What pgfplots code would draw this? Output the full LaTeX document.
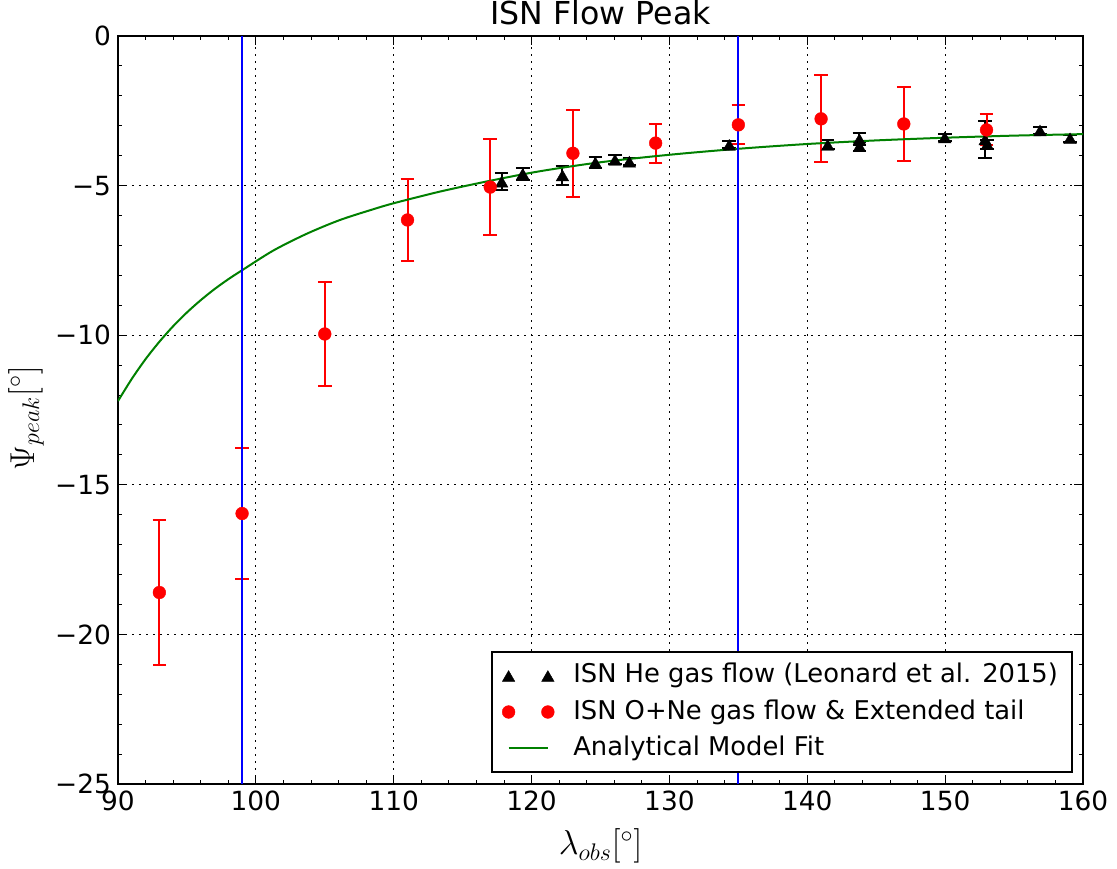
\documentclass[border=0pt]{standalone}
\usepackage{pgfplots}
\pgfplotsset{compat=1.18}
\usepackage{fontspec}
\setmainfont{DejaVu Sans}

\definecolor{mplgreen}{rgb}{0,0.5,0}
\definecolor{mplblue}{rgb}{0,0,1}
\definecolor{mplred}{rgb}{1,0,0}

\pgfplotsset{
  twomarks legend/.style={legend image code/.code={\draw[##1] plot[only marks] coordinates {(0cm,0cm) (0.69cm,0cm)};}},
  shortline legend/.style={legend image code/.code={\draw[##1] (0cm,0cm) -- (0.69cm,0cm);}},
}

% ISN He (Leonard et al. 2015)
\pgfplotstableread{
x y e
117.83 -4.87 0.28
119.36 -4.61 0.20
122.24 -4.66 0.32
124.63 -4.23 0.17
126.05 -4.14 0.15
127.09 -4.20 0.12
134.34 -3.64 0.12
141.48 -3.64 0.15
143.78 -3.45 0.20
143.78 -3.68 0.15
149.97 -3.39 0.12
152.90 -3.46 0.63
153.05 -3.62 0.15
156.88 -3.16 0.12
159.06 -3.42 0.12
}\hedata

% ISN O+Ne & extended tail
\pgfplotstableread{
x y e
93  -18.60 2.42
99  -15.96 2.19
105 -9.96  1.74
111 -6.15  1.37
117 -5.05  1.60
123 -3.92  1.45
129 -3.58  0.65
135 -2.97  0.65
141 -2.77  1.45
147 -2.94  1.24
153 -3.14  0.52
}\onedata

% analytical fit
\pgfplotstableread{
x y
90     -12.20
91     -11.46
92     -10.80
93     -10.22
94     -9.70
95     -9.24
96     -8.83
97     -8.46
98     -8.13
99     -7.83
101.27 -7.17
103.69 -6.61
106.1  -6.15
108.52 -5.79
110    -5.59
113.36 -5.20
116.98 -4.84
120.61 -4.52
125    -4.22
130    -3.97
135    -3.77
140    -3.61
145    -3.49
150    -3.40
155    -3.33
160    -3.28
}\fitdata

\begin{document}
\begin{tikzpicture}
\begin{axis}[
  scale only axis,
  width=482.5pt, height=374pt,
  xmin=90, xmax=160, ymin=-25, ymax=0,
  xtick={90,100,...,160},
  ytick={-25,-20,-15,-10,-5,0},
  yticklabels={−25,−20,−15,−10,−5,0},
  /pgf/number format/assume math mode=true,
  minor x tick num=4, minor y tick num=4,
  tick align=inside,
  major tick length=4.5pt, minor tick length=2.2pt,
  every tick/.style={black, line width=0.5pt},
  axis line style={line width=1pt},
  grid=major,
  major grid style={black, line width=0.5pt, dash pattern=on 1pt off 2.5pt},
  tick label style={font=\fontsize{13.2}{15}\selectfont},
  title={ISN Flow Peak},
  every axis title shift=0pt,
  title style={font=\fontsize{15.8}{18}\selectfont, at={(0.5,1.0147)}, anchor=base},
  xlabel={$\lambda_{obs}[^\circ]$},
  ylabel={$\Psi_{peak}[^\circ]$},
  label style={font=\fontsize{17}{20}\selectfont},
  xlabel style={at={(0.5,-0.0949)}, anchor=base},
  ylabel style={at={(-0.0870,0.4893)}, anchor=base},
  legend cell align=left,
  legend style={at={(0.9896,0.0147)}, anchor=south east, draw=black,
    line width=1pt, fill=white, font=\fontsize{12.9}{15}\selectfont,
    inner xsep=5pt, inner ysep=3pt,
    nodes={text height=10.5pt, text depth=3.5pt, inner ysep=2pt},
    /tikz/every odd column/.append style={column sep=7.5pt}},
]

\addplot[only marks, black, mark=triangle*, mark size=3.6pt,
  mark options={fill=black, draw=black, line width=0.2pt, yshift=-0.9pt},
  twomarks legend,
  error bars/.cd, y dir=both, y explicit,
  error bar style={line width=1pt, black},
  error mark options={rotate=90, mark size=3.4pt, line width=1pt, black}]
  table[x=x, y=y, y error=e] {\hedata};
\addlegendentry{ISN He gas flow (Leonard et al. 2015)}

\addplot[only marks, mplred, mark=*, mark size=3.2pt,
  mark options={fill=mplred, draw=mplred, line width=0.2pt},
  twomarks legend,
  error bars/.cd, y dir=both, y explicit,
  error bar style={line width=1pt, mplred},
  error mark options={rotate=90, mark size=3.4pt, line width=1pt, mplred}]
  table[x=x, y=y, y error=e] {\onedata};
\addlegendentry{ISN O+Ne gas flow \& Extended tail}

\addplot[mplgreen, line width=1pt, smooth, no marks, shortline legend]
  table[x=x, y=y] {\fitdata};
\addlegendentry{Analytical Model Fit}

\addplot[mplblue, line width=1pt, forget plot] coordinates {(99,-25) (99,0)};
\addplot[mplblue, line width=1pt, forget plot] coordinates {(135,-25) (135,0)};

\end{axis}
\pgfresetboundingbox
\path (current axis.south west) ++(-59pt,-42.5pt) rectangle ([xshift=17pt,yshift=18pt]current axis.north east);
\end{tikzpicture}
\end{document}
